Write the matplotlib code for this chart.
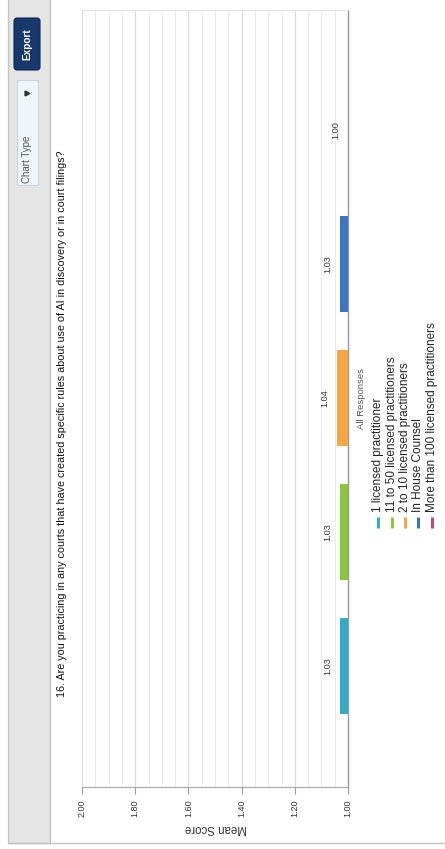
import matplotlib
matplotlib.use('Agg')
import matplotlib.pyplot as plt
from matplotlib.patches import Rectangle, FancyBboxPatch
import numpy as np

plt.rcParams['font.family'] = ['Liberation Sans', 'DejaVu Sans']

title = ('16. Are you practicing in any courts that have created specific rules '
         'about use of AI in discovery or in court filings?')
groups = ['1 licensed practitioner', '11 to 50 licensed practitioners',
          '2 to 10 licensed practitioners', 'In House Counsel',
          'More than 100 licensed practitioners']
values = [1.03, 1.03, 1.04, 1.03, 1.00]
value_labels = ['1.03', '1.03', '1.04', '1.03', '1.00']
colors = ['#33adc6', '#8cc63f', '#f4a742', '#3a76c4', '#c4487a']
ticks = [2.00, 1.80, 1.60, 1.40, 1.20, 1.00]
tick_labels = ['2.00', '1.80', '1.60', '1.40', '1.20', '1.00']
axis_label = 'Mean Score'
legend_title = 'All Responses'

W, H = 445, 849
fig = plt.figure(figsize=(W / 100, H / 100), dpi=100)
fig.patch.set_facecolor('white')

# background / page decorations in pixel coordinates
bg = fig.add_axes([0, 0, 1, 1], zorder=0)
bg.set_xlim(0, W)
bg.set_ylim(H, 0)
bg.axis('off')

bg.add_patch(Rectangle((8, -2), 42, 845, facecolor='#e5e5e5', edgecolor='#c4c4c4', lw=1))
bg.plot([8, W], [843, 843], color='#c4c4c4', lw=1)

# Export button
bg.add_patch(FancyBboxPatch((14, 18), 26, 52, boxstyle='round,pad=0,rounding_size=3',
                            facecolor='#17386b', edgecolor='#0f2a55', lw=0.8))
bg.text(27, 44, 'Export', rotation=90, ha='center', va='center', color='white',
        fontsize=7.2, fontweight='bold')

# Chart Type dropdown
bg.add_patch(Rectangle((17, 80), 21, 105, facecolor='#eef5fb', edgecolor='#c7d3de', lw=0.8))
bg.text(27, 183, 'Chart Type', rotation=90, ha='center', va='bottom', color='#555555',
        fontsize=7)
bg.plot([27], [93], marker='>', markersize=3.5, color='#333333')

# question title
bg.text(62, 697, title, rotation=90, ha='center', va='bottom', color='#111111', fontsize=7.75)

# axis title (upside down because the screenshot is rotated)
bg.text(216, 828, axis_label, rotation=180, ha='center', va='center', color='#333333',
        fontsize=8.3)

# legend
bg.text(362, 398, legend_title, rotation=90, ha='center', va='center', color='#555555',
        fontsize=6.8)
leg_x = [378, 392, 405, 418, 432]
for lx, name, c in zip(leg_x, groups, colors):
    bg.plot([lx, lx], [517, 528], color=c, lw=2.2, solid_capstyle='butt')
    bg.text(lx, 512, name, rotation=90, ha='center', va='bottom', color='#222222',
            fontsize=8.5)

# main plot area
ax = fig.add_axes([82 / W, 1 - 787 / H, 266 / W, 777 / H], zorder=1)
ax.patch.set_alpha(0)
pos = np.arange(len(values))
ax.barh(pos, values, height=0.72, color=colors, zorder=3)
ax.set_xlim(2.0, 1.0)
ax.set_ylim(-0.903, 4.896)

for p, v, lab in zip(pos, values, value_labels):
    ax.annotate(lab, (v, p), xytext=(-9, 0), textcoords='offset points', rotation=90,
                ha='center', va='center', fontsize=6.6, color='#333333')

ax.set_xticks(ticks)
ax.set_xticklabels(tick_labels, rotation=90, fontsize=6.5, color='#333333')
ax.set_xticks(np.arange(1.0, 2.001, 0.05), minor=True)
ax.set_yticks([])
ax.tick_params(axis='x', which='major', length=5, width=0.8, color='#999999', pad=4)
ax.tick_params(axis='x', which='minor', length=0)
ax.grid(axis='x', which='major', color='#d9d9d9', lw=0.9, zorder=0)
ax.grid(axis='x', which='minor', color='#ebebeb', lw=0.8, zorder=0)

ax.spines['left'].set_visible(False)
ax.spines['top'].set_color('#e6e6e6')
ax.spines['top'].set_linewidth(0.8)
ax.spines['right'].set_color('#9a9a9a')
ax.spines['right'].set_linewidth(1.0)
ax.spines['bottom'].set_color('#aaaaaa')
ax.spines['bottom'].set_linewidth(0.9)

fig.savefig('out.png', dpi=100)
